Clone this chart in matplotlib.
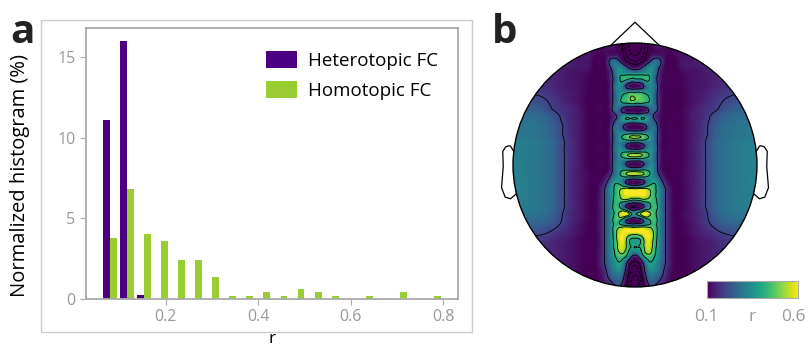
import matplotlib
matplotlib.use("Agg")
import matplotlib.pyplot as plt
import matplotlib.tri as mtri
import numpy as np
from matplotlib.cm import ScalarMappable
from matplotlib.colors import Normalize
from matplotlib.patches import Circle, Rectangle

plt.rcParams['font.family'] = ['Open Sans', 'DejaVu Sans']

# --- panel a: histogram of r (20 bins) ---
r_lo, r_hi, n_bins = 0.061, 0.799, 20
hetero_pct = [11.1, 16.0, 0.23, 0, 0, 0, 0, 0, 0, 0,
              0, 0, 0, 0, 0, 0, 0, 0, 0, 0]
homo_pct = [3.8, 6.8, 4.0, 3.6, 2.4, 2.4, 1.35, 0.2, 0.2, 0.41,
            0.2, 0.62, 0.41, 0.2, 0, 0.2, 0, 0.41, 0, 0.2]
labels = ["Heterotopic FC", "Homotopic FC"]
colors = ["#4b0082", "#9acd32"]

# --- panel b: topomap r values, right half of head (x >= 0), rows from front (y=1) to back (y=-1) ---
topo_x = [0.0, 0.05, 0.1, 0.15, 0.2, 0.25, 0.35, 0.45, 0.55, 0.65, 0.8, 1.0]
topo_y = [1.0, 0.95, 0.9, 0.85, 0.8, 0.75, 0.7, 0.65, 0.6, 0.55, 0.5,
          0.45, 0.4, 0.35, 0.3, 0.25, 0.2, 0.15, 0.1, 0.05, 0.0,
          -0.05, -0.1, -0.15, -0.2, -0.25, -0.3, -0.35, -0.4, -0.45, -0.5,
          -0.55, -0.6, -0.65, -0.7, -0.75, -0.8, -0.85, -0.9, -0.95, -1.0]
topo_half = [
    [-0.20, -0.15, 0.02, 0.10, 0.12, 0.11, 0.12, 0.13, 0.15, 0.16, 0.17, 0.17],
    [-0.20, -0.15, 0.02, 0.11, 0.12, 0.11, 0.12, 0.13, 0.15, 0.16, 0.17, 0.17],
    [-0.15, -0.10, 0.05, 0.13, 0.13, 0.11, 0.12, 0.13, 0.15, 0.16, 0.17, 0.17],
    [-0.05, 0.00, 0.12, 0.26, 0.24, 0.10, 0.11, 0.13, 0.15, 0.16, 0.17, 0.17],
    [0.12, 0.18, 0.30, 0.33, 0.20, 0.10, 0.11, 0.13, 0.14, 0.16, 0.17, 0.17],
    [0.35, 0.36, 0.37, 0.32, 0.16, 0.10, 0.10, 0.12, 0.13, 0.15, 0.17, 0.18],
    [0.36, 0.38, 0.43, 0.30, 0.15, 0.10, 0.10, 0.12, 0.13, 0.15, 0.17, 0.18],
    [0.07, 0.12, 0.30, 0.32, 0.15, 0.10, 0.10, 0.12, 0.13, 0.15, 0.18, 0.19],
    [0.37, 0.37, 0.36, 0.30, 0.15, 0.10, 0.10, 0.12, 0.14, 0.16, 0.19, 0.20],
    [0.50, 0.48, 0.42, 0.30, 0.15, 0.10, 0.10, 0.12, 0.14, 0.17, 0.21, 0.22],
    [0.37, 0.37, 0.36, 0.30, 0.15, 0.10, 0.10, 0.12, 0.15, 0.18, 0.23, 0.24],
    [0.06, 0.08, 0.16, 0.28, 0.15, 0.10, 0.10, 0.13, 0.16, 0.19, 0.25, 0.26],
    [0.35, 0.35, 0.33, 0.20, 0.12, 0.10, 0.10, 0.13, 0.16, 0.22, 0.27, 0.28],
    [0.25, 0.27, 0.30, 0.26, 0.13, 0.10, 0.10, 0.13, 0.17, 0.23, 0.28, 0.29],
    [0.07, 0.10, 0.22, 0.30, 0.15, 0.10, 0.10, 0.13, 0.17, 0.24, 0.29, 0.30],
    [0.44, 0.43, 0.38, 0.30, 0.15, 0.10, 0.10, 0.13, 0.17, 0.24, 0.29, 0.30],
    [0.37, 0.37, 0.36, 0.30, 0.15, 0.10, 0.10, 0.13, 0.18, 0.25, 0.30, 0.32],
    [0.07, 0.12, 0.28, 0.32, 0.15, 0.10, 0.10, 0.13, 0.18, 0.25, 0.30, 0.32],
    [0.46, 0.45, 0.41, 0.31, 0.15, 0.10, 0.10, 0.13, 0.18, 0.25, 0.30, 0.32],
    [0.37, 0.37, 0.36, 0.30, 0.15, 0.10, 0.10, 0.13, 0.18, 0.25, 0.30, 0.32],
    [0.07, 0.12, 0.28, 0.32, 0.15, 0.10, 0.10, 0.13, 0.18, 0.25, 0.30, 0.32],
    [0.47, 0.46, 0.42, 0.32, 0.16, 0.10, 0.10, 0.13, 0.18, 0.25, 0.30, 0.32],
    [0.37, 0.38, 0.38, 0.34, 0.22, 0.12, 0.10, 0.13, 0.18, 0.25, 0.30, 0.32],
    [0.07, 0.12, 0.30, 0.40, 0.30, 0.16, 0.10, 0.13, 0.18, 0.25, 0.30, 0.32],
    [0.56, 0.57, 0.53, 0.44, 0.34, 0.20, 0.10, 0.13, 0.18, 0.25, 0.30, 0.32],
    [0.60, 0.60, 0.55, 0.44, 0.34, 0.20, 0.10, 0.13, 0.18, 0.25, 0.30, 0.32],
    [0.30, 0.35, 0.42, 0.44, 0.34, 0.20, 0.10, 0.13, 0.18, 0.25, 0.30, 0.32],
    [0.05, 0.12, 0.32, 0.45, 0.34, 0.20, 0.10, 0.13, 0.18, 0.25, 0.30, 0.32],
    [0.38, 0.52, 0.60, 0.46, 0.34, 0.20, 0.10, 0.13, 0.17, 0.24, 0.29, 0.30],
    [0.07, 0.14, 0.35, 0.45, 0.34, 0.20, 0.10, 0.13, 0.17, 0.23, 0.27, 0.28],
    [0.40, 0.42, 0.45, 0.45, 0.34, 0.20, 0.10, 0.12, 0.16, 0.21, 0.25, 0.26],
    [0.58, 0.60, 0.60, 0.50, 0.34, 0.20, 0.10, 0.12, 0.15, 0.18, 0.22, 0.23],
    [0.40, 0.44, 0.60, 0.50, 0.34, 0.20, 0.10, 0.11, 0.14, 0.16, 0.19, 0.20],
    [0.38, 0.42, 0.58, 0.48, 0.34, 0.20, 0.10, 0.11, 0.13, 0.15, 0.18, 0.18],
    [0.36, 0.40, 0.55, 0.46, 0.33, 0.20, 0.10, 0.11, 0.13, 0.15, 0.17, 0.17],
    [0.15, 0.30, 0.45, 0.42, 0.32, 0.20, 0.10, 0.11, 0.13, 0.15, 0.17, 0.17],
    [0.00, 0.12, 0.35, 0.38, 0.30, 0.20, 0.10, 0.11, 0.13, 0.15, 0.17, 0.17],
    [-0.10, 0.05, 0.30, 0.35, 0.28, 0.18, 0.10, 0.11, 0.13, 0.15, 0.17, 0.17],
    [-0.15, 0.00, 0.25, 0.30, 0.25, 0.16, 0.10, 0.11, 0.13, 0.15, 0.17, 0.17],
    [-0.20, -0.05, 0.20, 0.25, 0.20, 0.14, 0.10, 0.11, 0.13, 0.15, 0.17, 0.17],
    [-0.20, -0.08, 0.15, 0.20, 0.16, 0.12, 0.10, 0.11, 0.13, 0.15, 0.17, 0.17],
]
contour_levels = [-0.15, -0.05, 0.03, 0.2, 0.4, 0.5]
r_min, r_max = 0.1, 0.6

# head outline (unit radius)
nose_x = [-0.2, 0.0, 0.2]
nose_y = [0.98, 1.17, 0.98]
ear_x = [0.994, 1.02, 1.036, 1.06, 1.084, 1.08, 1.094, 1.064, 1.02, 0.978]
ear_y = [0.111, 0.155, 0.157, 0.149, 0.111, -0.011, -0.186, -0.263, -0.277, -0.24]

W, H = 810, 347
fig = plt.figure(figsize=(W / 100, H / 100), dpi=100)

# frame around panel a
fig.add_artist(Rectangle((41 / W, 1 - 332 / H), (472 - 41) / W, (332 - 20) / H,
                         transform=fig.transFigure, fill=False,
                         edgecolor="#cccccc", linewidth=1.0))

ax = fig.add_axes([86 / W, 1 - 299 / H, (458 - 86) / W, (299 - 28) / H])
edges = np.linspace(r_lo, r_hi, n_bins + 1)
centers = (edges[:-1] + edges[1:]) / 2
ax.hist([centers, centers], bins=edges, weights=[hetero_pct, homo_pct],
        color=colors, label=labels)
ax.set_xticks([0.2, 0.4, 0.6, 0.8])
ax.set_yticks([0, 5, 10, 15])
for s in ax.spines.values():
    s.set_color("#aaaaaa")
    s.set_linewidth(1.3)
ax.tick_params(colors="#aaaaaa", labelcolor="#999999", labelsize=11.5, length=4)
ax.set_ylabel("Normalized histogram (%)", fontsize=14.5, color="black")
ax.yaxis.set_label_coords(-0.15, 0.454)
ax.set_xlabel("r", fontsize=12.5, color="black", va="baseline")
ax.xaxis.set_label_coords(0.5, (299 - 343) / 271)
ax.legend(loc="upper left", bbox_to_anchor=(0.484, 0.915), frameon=False,
          fontsize=13.5, borderaxespad=0, borderpad=0, handlelength=1.65,
          handleheight=1.0, handletextpad=0.6, labelspacing=0.62)

# panel b
bx = fig.add_axes([(635 - 1.2 * 122) / W, 1 - (165 + 1.1 * 122) / H,
                   2.4 * 122 / W, 2.35 * 122 / H])
bx.set_xlim(-1.2, 1.2)
bx.set_ylim(-1.1, 1.25)
bx.axis("off")

half = np.array(topo_half)
field = np.hstack([half[:, :0:-1], half])
xs = np.concatenate([-np.array(topo_x)[:0:-1], topo_x])
X, Y = np.meshgrid(xs, topo_y)
tri = mtri.Triangulation(X.ravel(), Y.ravel())
tri_f, z_f = mtri.UniformTriRefiner(tri).refine_field(field.ravel(), subdiv=3)

head = Circle((0, 0), 1.0, transform=bx.transData)
pc = bx.tripcolor(tri_f, z_f, shading="gouraud", cmap="viridis",
                  vmin=r_min, vmax=r_max)
pc.set_clip_path(head)
cs = bx.tricontour(tri_f, z_f, levels=contour_levels, colors="k", linewidths=0.6)
cs.set_clip_path(head)

bx.add_patch(Circle((0, 0), 1.0, fill=False, edgecolor="black", linewidth=1.0))
bx.plot(nose_x, nose_y, color="black", linewidth=0.9)
bx.plot(ear_x, ear_y, color="black", linewidth=0.9)
bx.plot(-np.array(ear_x), ear_y, color="black", linewidth=0.9)

cax = fig.add_axes([707 / W, 1 - 298 / H, 91 / W, 17 / H])
cb = fig.colorbar(ScalarMappable(Normalize(r_min, r_max), "viridis"),
                  cax=cax, orientation="horizontal")
cb.set_ticks([])
cb.outline.set_edgecolor("#aaaaaa")
fig.text(706 / W, 1 - 317 / H, "0.1", color="#999999", fontsize=12.5,
         ha="center", va="center")
fig.text(752 / W, 1 - 317 / H, "r", color="#999999", fontsize=12.5,
         ha="center", va="center")
fig.text(793 / W, 1 - 317 / H, "0.6", color="#999999", fontsize=12.5,
         ha="center", va="center")

fig.text(10 / W, 1 - 43 / H, "a", fontsize=29, fontweight="bold", color="#222222")
fig.text(492 / W, 1 - 43 / H, "b", fontsize=29, fontweight="bold", color="#222222")

fig.savefig("out.png", dpi=100)
